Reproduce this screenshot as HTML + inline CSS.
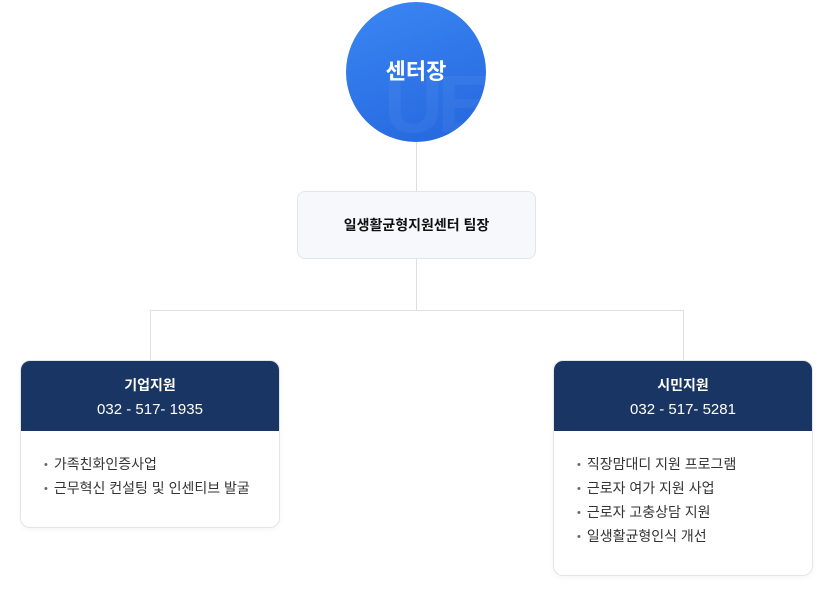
<!DOCTYPE html>
<html><head><meta charset="utf-8"><style>
*{margin:0;padding:0;box-sizing:border-box}
body{width:833px;height:598px;background:#fff;position:relative;overflow:hidden;font-family:"Liberation Sans","Noto Sans CJK KR",sans-serif}
.l{position:absolute;background:#dcdfe4}
.circle{position:absolute;left:346px;top:2px;width:140px;height:140px;border-radius:50%;background:linear-gradient(160deg,#3a87f4,#2566dd);color:#fff;font-size:22px;font-weight:bold;display:flex;align-items:center;justify-content:center;overflow:hidden}
.circle span{position:relative;z-index:2;margin-top:-4px}
.wm{position:absolute;left:38px;top:56px;font-size:82px;font-weight:900;color:rgba(255,255,255,0.045);letter-spacing:-6px;z-index:1}
.lead{position:absolute;left:297px;top:191px;width:239px;height:68px;border:1px solid #e2e5ea;border-radius:8px;background:#f7f8fb;display:flex;align-items:center;justify-content:center;font-size:14px;font-weight:bold;color:#111}
.card{position:absolute;border:1px solid #e3e5e9;border-radius:10px;background:#fff;overflow:hidden;box-shadow:0 2px 6px rgba(0,0,0,0.04)}
.hd{background:#193564;color:#fff;text-align:center;height:70px;padding-top:13px}
.hd b{display:block;font-size:14px;line-height:22px}
.hd div{font-size:15px;line-height:24px;margin-top:2px}
ul{list-style:none;padding:21px 0 0 23px;font-size:14px;color:#333}
li{height:24px;line-height:24px;overflow:hidden;white-space:nowrap}
li:before{content:"•";margin-right:6px;font-size:11px;position:relative;top:-1px;color:#666}
</style></head><body>
<div class="l" style="left:416px;top:142px;width:1px;height:49px"></div>
<div class="l" style="left:416px;top:259px;width:1px;height:52px"></div>
<div class="l" style="left:150px;top:310px;width:534px;height:1px"></div>
<div class="l" style="left:150px;top:310px;width:1px;height:50px"></div>
<div class="l" style="left:683px;top:310px;width:1px;height:50px"></div>
<div class="circle"><div class="wm">UE</div><span>센터장</span></div>
<div class="lead">일생활균형지원센터 팀장</div>
<div class="card" style="left:20px;top:360px;width:260px;height:168px">
<div class="hd"><b>기업지원</b><div>032 - 517- 1935</div></div>
<ul><li>가족친화인증사업</li><li>근무혁신 컨설팅 및 인센티브 발굴</li></ul></div>
<div class="card" style="left:553px;top:360px;width:260px;height:216px">
<div class="hd"><b>시민지원</b><div>032 - 517- 5281</div></div>
<ul><li>직장맘대디 지원 프로그램</li><li>근로자 여가 지원 사업</li><li>근로자 고충상담 지원</li><li>일생활균형인식 개선</li></ul></div>
</body></html>
